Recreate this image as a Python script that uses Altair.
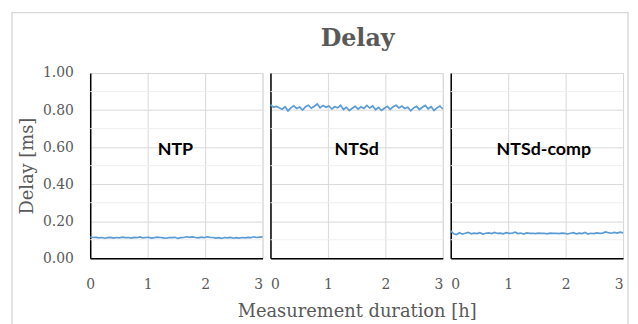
import altair as alt
import pandas as pd
import numpy as np

series_names = ["NTP", "NTSd", "NTSd-comp"]

ntp = [0.115, 0.112, 0.113, 0.110, 0.112, 0.108, 0.111, 0.113, 0.109, 0.112,
       0.110, 0.114, 0.111, 0.112, 0.109, 0.113, 0.111, 0.115, 0.110, 0.112,
       0.113, 0.109, 0.111, 0.114, 0.112, 0.110, 0.108, 0.112, 0.111, 0.113,
       0.107, 0.111, 0.112, 0.116, 0.113, 0.115, 0.112, 0.110, 0.114, 0.111,
       0.116, 0.113, 0.112, 0.109, 0.111, 0.107, 0.112, 0.110, 0.113, 0.108,
       0.111, 0.109, 0.112, 0.110, 0.113, 0.111, 0.116, 0.112, 0.114, 0.115]

ntsd = [0.830, 0.815, 0.820, 0.812, 0.805, 0.818, 0.796, 0.812, 0.823, 0.808,
        0.816, 0.800, 0.818, 0.826, 0.810, 0.821, 0.833, 0.812, 0.825, 0.815,
        0.822, 0.806, 0.818, 0.812, 0.826, 0.803, 0.815, 0.797, 0.810, 0.820,
        0.805, 0.818, 0.809, 0.825, 0.811, 0.822, 0.802, 0.815, 0.798, 0.810,
        0.820, 0.804, 0.818, 0.826, 0.812, 0.822, 0.808, 0.815, 0.796, 0.812,
        0.820, 0.803, 0.815, 0.825, 0.807, 0.818, 0.798, 0.812, 0.822, 0.806]

ntsd_comp = [0.148, 0.132, 0.128, 0.138, 0.130, 0.135, 0.140, 0.132, 0.136, 0.133,
             0.138, 0.131, 0.135, 0.137, 0.133, 0.139, 0.134, 0.136, 0.132, 0.138,
             0.134, 0.135, 0.141, 0.133, 0.136, 0.131, 0.137, 0.134, 0.135, 0.133,
             0.136, 0.134, 0.135, 0.132, 0.136, 0.134, 0.135, 0.133, 0.136, 0.134,
             0.131, 0.135, 0.138, 0.132, 0.136, 0.133, 0.139, 0.130, 0.135, 0.133,
             0.137, 0.134, 0.136, 0.142, 0.138, 0.135, 0.140, 0.136, 0.141, 0.137]

y_ticks = [0.0, 0.2, 0.4, 0.6, 0.8, 1.0]
y_minor = [0.1, 0.3, 0.5, 0.7, 0.9]
x_ticks = [0, 1, 2, 3]

SERIF = "DejaVu Serif"
GRAY = "#595959"
BLUE = "#5b9bd5"
W, H = 174, 187
label_dx = [-1, 0, 7]


def panel(idx, name, values):
    n = len(values)
    df = pd.DataFrame({"t": np.linspace(0, 3, n), "v": values})
    first = idx == 0
    middle = idx == 1

    xkw = dict(values=x_ticks, title="Measurement duration [h]" if middle else None,
               ticks=False, labelPadding=20, labelFontSize=14, labelFont=SERIF,
               labelColor=GRAY, titleFont=SERIF, titleFontSize=18, titleColor=GRAY,
               titleFontWeight="normal", titlePadding=11, domainColor="#000000",
               domainWidth=1.5, gridColor="#d9d9d9")
    if first:
        xkw.update(labelFlush=False,
                   labelAlign={"condition": {"test": "datum.value == 3", "value": "right"},
                               "value": "center"})
    else:
        xkw.update(labelFlush=True)
    xaxis = alt.Axis(**xkw)

    if first:
        yaxis = alt.Axis(values=y_ticks, format=".2f", title="Delay [ms]", ticks=False,
                         labelPadding=17, labelFontSize=14, labelFont=SERIF, labelColor=GRAY,
                         titleFont=SERIF, titleFontSize=18, titleColor=GRAY,
                         titleFontWeight="normal", titlePadding=6, domainColor="#000000",
                         domainWidth=1.5, gridColor="#d9d9d9")
    else:
        yaxis = alt.Axis(values=y_ticks, labels=False, ticks=False, title=None,
                         domainColor="#000000", domainWidth=1.5, gridColor="#d9d9d9")

    yscale = alt.Scale(domain=[0, 1], nice=False)

    minor = alt.Chart(pd.DataFrame({"v": y_minor})).mark_rule(
        color="#efefef", strokeWidth=1).encode(y=alt.Y("v:Q", scale=yscale, axis=yaxis))

    line = alt.Chart(df).mark_line(color=BLUE, strokeWidth=1.7).encode(
        x=alt.X("t:Q", scale=alt.Scale(domain=[0, 3], nice=False), axis=xaxis),
        y=alt.Y("v:Q", scale=yscale, axis=yaxis),
    )

    label = alt.Chart(pd.DataFrame({"label": [name]})).mark_text(
        font="Lato", fontWeight="bold", fontSize=18, color="#000000",
        baseline="middle", align="center", dx=label_dx[idx]).encode(
        text="label:N", x=alt.value(W / 2), y=alt.value(78))

    layers = [minor, line, label]
    if first:
        border = alt.Chart(pd.DataFrame({"b": [0]})).mark_rect(
            fillOpacity=0, stroke="#d9d9d9", strokeWidth=1.5).encode(
            x=alt.value(-79), x2=alt.value(543), y=alt.value(-61), y2=alt.value(280))
        layers = [border] + layers
    return alt.layer(*layers).properties(width=W, height=H)


panels = [panel(i, n, v) for i, (n, v) in enumerate(zip(series_names, [ntp, ntsd, ntsd_comp]))]

chart = alt.hconcat(*panels, spacing=8, bounds="flush").properties(
    title=alt.TitleParams("Delay", font=SERIF, fontSize=24, fontWeight="bold", color=GRAY,
                          anchor="middle", offset=-40, dx=38),
    padding={"left": 2, "top": 1, "right": 0, "bottom": 0},
).configure_view(stroke=None).configure(background="white")

chart.save("out.html", embed_options={"renderer": "svg", "actions": False})
